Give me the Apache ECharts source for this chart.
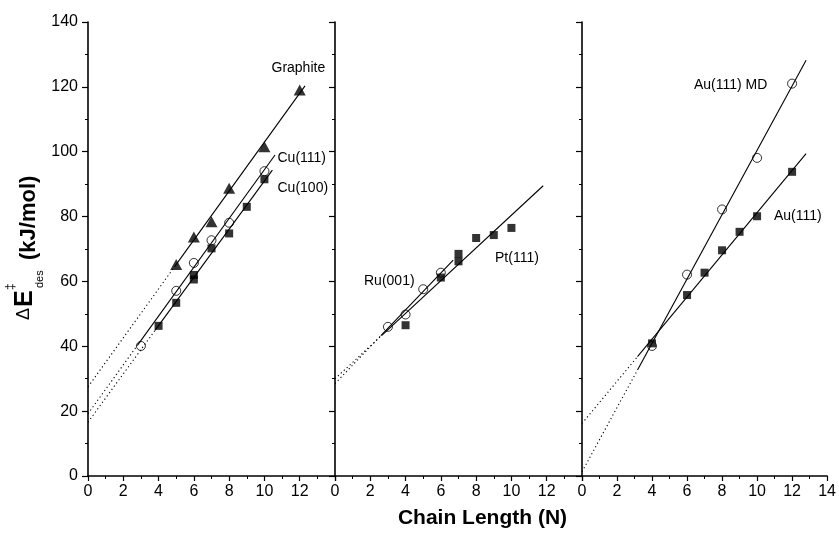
<!DOCTYPE html>
<html>
<head>
<meta charset="utf-8">
<script src="https://cdn.jsdelivr.net/npm/echarts@6/dist/echarts.min.js"></script>
<style>
  html, body { margin: 0; padding: 0; background: #fff; }
  #chart { width: 839px; height: 534px; }
</style>
</head>
<body>
<div id="chart"></div>
<script>
// Desorption energy vs. chain length for n-alkanes on several surfaces

// Panel 1: graphite, Cu(111), Cu(100)
const graphiteN = [5, 6, 7, 8, 10, 12];
const graphiteE = [65.2, 73.7, 78.4, 88.7, 101.5, 119.0];
const cu111N = [3, 5, 6, 7, 8, 10];
const cu111E = [40.1, 57.1, 65.7, 72.7, 78.1, 94.0];
const cu100N = [4, 5, 6, 6, 7, 8, 9, 10];
const cu100E = [46.3, 53.4, 62.0, 60.6, 70.2, 74.8, 83.0, 91.5];

// Panel 2: Ru(001), Pt(111)
const ruN = [3, 4, 5, 6];
const ruE = [46.0, 49.8, 57.6, 62.7];
const ptN = [4, 6, 7, 7, 8, 9, 10];
const ptE = [46.5, 61.2, 66.2, 68.5, 73.4, 74.3, 76.5];

// Panel 3: Au(111) MD and Au(111)
const auMdN = [4, 6, 8, 10, 12];
const auMdE = [40.1, 62.1, 82.2, 98.1, 121.0];
const auN = [4, 6, 7, 8, 9, 10, 12];
const auE = [40.9, 55.8, 62.7, 69.6, 75.3, 80.1, 93.8];

// Linear fits: [intercept point, start of solid part, end of solid part]
const graphiteFit = [[0, 27.5], [4.9, 64.5], [12.3, 120.3]];
const cu111Fit = [[0, 19.2], [2.8, 40.3], [10.6, 99.0]];
const cu100Fit = [[0, 16.6], [3.8, 44.9], [10.45, 94.3]];
const ruFit = [[0, 28.5], [2.6, 43.3], [6.7, 66.6]];
const ptFit = [[0, 30.0], [2.7, 43.6], [11.8, 89.5]];
const auMdFit = [[0, 1.3], [3.17, 32.7], [12.8, 128.2]];
const auFit = [[0, 16.2], [3.17, 36.8], [12.8, 99.4]];

// Axis ranges and ticks
const chainMin = 0, chainMax = 14, chainStep = 2;
const energyMin = 0, energyMax = 140, energyStep = 20;

const FONT = '"Liberation Sans", Arial, Helvetica, sans-serif';
const BLACK = '#000';

const zip = (xs, ys) => xs.map((x, i) => [x, ys[i]]);

function xAxisFor(i, showLast) {
  return {
    type: 'value', gridIndex: i, min: chainMin, max: chainMax, interval: chainStep,
    axisLine: { show: true, onZero: false, lineStyle: { color: BLACK, width: 1.6 } },
    axisTick: { show: true, inside: false, length: 5, lineStyle: { color: BLACK, width: 1.2 } },
    minorTick: { show: true, splitNumber: 2, length: 3, lineStyle: { color: BLACK, width: 1 } },
    splitLine: { show: false }, minorSplitLine: { show: false },
    axisLabel: {
      show: true, fontSize: 16, color: BLACK, fontFamily: FONT, margin: 8,
      showMinLabel: true, showMaxLabel: showLast,
      formatter: v => (!showLast && v === chainMax) ? '' : String(v)
    }
  };
}

function yAxisFor(i, showLabels) {
  return {
    type: 'value', gridIndex: i, min: energyMin, max: energyMax, interval: energyStep,
    axisLine: { show: true, onZero: false, lineStyle: { color: BLACK, width: 1.6 } },
    axisTick: { show: true, inside: false, length: 6, lineStyle: { color: BLACK, width: 1.2 } },
    minorTick: { show: true, splitNumber: 2, length: 3, lineStyle: { color: BLACK, width: 1 } },
    splitLine: { show: false }, minorSplitLine: { show: false },
    axisLabel: {
      show: showLabels, fontSize: 16, color: BLACK, fontFamily: FONT, margin: 10,
      showMinLabel: true, showMaxLabel: true
    }
  };
}

function fitSeries(fit, i) {
  const base = {
    type: 'line', xAxisIndex: i, yAxisIndex: i, symbol: 'none', silent: true,
    animation: false, z: 2
  };
  return [
    Object.assign({}, base, { data: [fit[0], fit[1]], lineStyle: { color: BLACK, width: 1.1, type: [1.2, 2.8] } }),
    Object.assign({}, base, { data: [fit[1], fit[2]], lineStyle: { color: BLACK, width: 1.1, type: 'solid' } })
  ];
}

function pointSeries(xs, ys, i, kind) {
  const s = { type: 'scatter', xAxisIndex: i, yAxisIndex: i, data: zip(xs, ys), animation: false, z: 3, silent: true };
  if (kind === 'triangle') {
    s.symbol = 'triangle'; s.symbolSize = [12, 11];
    s.itemStyle = { color: BLACK };
  } else if (kind === 'square') {
    s.symbol = 'rect'; s.symbolSize = 8;
    s.itemStyle = { color: BLACK };
  } else {
    s.symbol = 'circle'; s.symbolSize = 9;
    s.itemStyle = { color: 'rgba(0,0,0,0)', borderColor: BLACK, borderWidth: 1 };
  }
  return s;
}

const grids = [0, 1, 2].map(i => ({ left: 88 + i * 247, top: 22, width: 247, height: 454 }));

const series = [].concat(
  fitSeries(graphiteFit, 0), fitSeries(cu111Fit, 0), fitSeries(cu100Fit, 0),
  [pointSeries(graphiteN, graphiteE, 0, 'triangle'),
   pointSeries(cu111N, cu111E, 0, 'circle'),
   pointSeries(cu100N, cu100E, 0, 'square')],
  fitSeries(ruFit, 1), fitSeries(ptFit, 1),
  [pointSeries(ruN, ruE, 1, 'circle'),
   pointSeries(ptN, ptE, 1, 'square')],
  fitSeries(auMdFit, 2), fitSeries(auFit, 2),
  [pointSeries(auMdN, auMdE, 2, 'circle'),
   pointSeries(auN, auE, 2, 'square')]
);

function label(text, x, y) {
  return {
    type: 'text', x: x, y: y, silent: true, z: 10,
    style: { text: text, font: '14px ' + FONT, fill: BLACK, align: 'left', verticalAlign: 'middle' }
  };
}

const graphic = [
  label('Graphite', 271.5, 68.5),
  label('Cu(111)', 277.5, 158),
  label('Cu(100)', 277.5, 188),
  label('Ru(001)', 364, 281),
  label('Pt(111)', 495, 258),
  label('Au(111) MD', 694, 85),
  label('Au(111)', 774, 216),
  {
    type: 'text', x: 482.5, y: 529, silent: true,
    style: { text: 'Chain Length (N)', font: 'bold 21px ' + FONT, fill: BLACK, align: 'center', verticalAlign: 'bottom' }
  },
  {
    // rotated y-axis title: ΔE‡des (kJ/mol)
    type: 'group', x: 37, y: 320, rotation: Math.PI / 2, silent: true,
    children: [
      { type: 'text', x: 0, y: -4, style: { text: 'Δ', font: '18px ' + FONT, fill: BLACK, align: 'left', verticalAlign: 'bottom' } },
      { type: 'text', x: 13, y: 1, style: { text: 'E', font: 'bold 25px ' + FONT, fill: BLACK, align: 'left', verticalAlign: 'bottom' } },
      { type: 'text', x: 30, y: -20, style: { text: '‡', font: '12px ' + FONT, fill: BLACK, align: 'left', verticalAlign: 'bottom' } },
      { type: 'text', x: 32, y: 8, style: { text: 'des', font: '11px ' + FONT, fill: BLACK, align: 'left', verticalAlign: 'bottom' } },
      { type: 'text', x: 60, y: 3, style: { text: '(kJ/mol)', font: 'bold 22px ' + FONT, fill: BLACK, align: 'left', verticalAlign: 'bottom' } }
    ]
  }
];

const chart = echarts.init(document.getElementById('chart'), null, { renderer: 'canvas' });
chart.setOption({
  animation: false,
  backgroundColor: '#fff',
  grid: grids,
  xAxis: [xAxisFor(0, false), xAxisFor(1, false), xAxisFor(2, true)],
  yAxis: [yAxisFor(0, true), yAxisFor(1, false), yAxisFor(2, false)],
  series: series,
  graphic: graphic
});
</script>
</body>
</html>
